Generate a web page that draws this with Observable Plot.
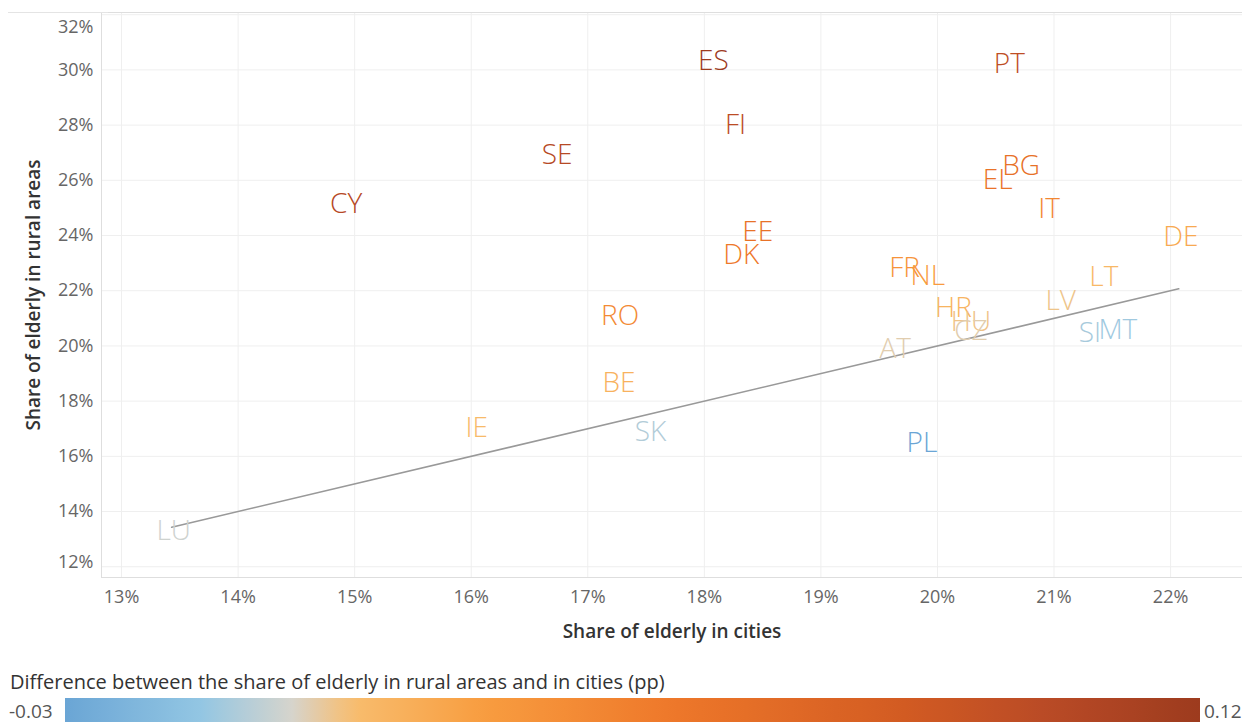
<!DOCTYPE html>
<html>
<head>
<meta charset="utf-8">
<script src="https://cdn.jsdelivr.net/npm/d3@7"></script>
<script src="https://cdn.jsdelivr.net/npm/@observablehq/plot@0.6"></script>
<style>
  html, body { margin: 0; padding: 0; background: #fff; }
  body { font-family: "Open Sans", sans-serif; width: 1242px; height: 722px; overflow: hidden; position: relative; }
  g[aria-label="country"] text { letter-spacing: 4px; }
  #topline { position: absolute; left: 8px; top: 12px; width: 100px; height: 1px; background: #e4e4e4; }
  #legend { position: relative; height: 60px; }
  #legend-title { position: absolute; left: 10px; top: 6px; font-size: 20px; color: #333; white-space: nowrap; }
  #legend-bar { position: absolute; left: 65px; top: 36px; width: 1135px; height: 30px; }
  .lab { position: absolute; top: 36px; font-size: 19px; color: #555; }
</style>
</head>
<body>
<div id="topline"></div>
<div id="chart"></div>
<div id="legend">
  <div id="legend-title"></div>
  <div id="legend-bar"></div>
  <div class="lab" id="lmin" style="left:9px"></div>
  <div class="lab" id="lmax" style="left:1204px"></div>
</div>
<script>
// ---- data (percent) ----
const countries = ["ES","PT","FI","SE","CY","BG","EL","IT","EE","DK","DE","FR","NL","LT","LV","HR","HU","CZ","AT","SI","MT","RO","BE","IE","SK","PL","LU"];
const shareCities = [18.06,20.60,18.25,16.72,14.91,20.70,20.50,20.94,18.44,18.30,22.07,19.70,19.90,21.41,21.04,20.12,20.27,20.27,19.62,21.29,21.53,17.26,17.25,16.03,17.52,19.85,13.43];
const shareRural  = [30.31,30.20,27.99,26.90,25.13,26.50,26.00,24.95,24.11,23.28,23.93,22.81,22.52,22.48,21.61,21.39,20.85,20.53,19.87,20.45,20.56,21.07,18.64,17.01,16.87,16.47,13.28];

const xTicks = [13,14,15,16,17,18,19,20,21,22];
const yTicks = [14,16,18,20,22,24,26,28,30];
const yTickLow = [12];
const yTickHigh = [32];

const xDomain = [12.828, 22.617];
const yDomain = [11.61, 32.08];

const colorDomain = [-0.03, -0.012, 0, 0.008, 0.025, 0.05, 0.08, 0.10, 0.12];
const colorRange  = ["#6aa5d5", "#93c6e3", "#d6d4cc", "#f8bd6e", "#f89d40", "#ee782a", "#d35c22", "#b94a26", "#9d3b1e"];

const xTitle = "Share of elderly in cities";
const yTitle = "Share of elderly in rural areas";
const legendTitle = "Difference between the share of elderly in rural areas and in cities (pp)";
const legendMin = "-0.03";
const legendMax = "0.12";

const data = countries.map((c, i) => ({
  country: c,
  x: shareCities[i],
  y: shareRural[i],
  diff: (shareRural[i] - shareCities[i]) / 100
}));
const [minX, maxX] = d3.extent(data, d => d.x);
const diag = [{x: minX, y: minX}, {x: maxX, y: maxX}];

const pct = d => d + "%";
const tickFont = {fontSize: 18, fill: "#666", tickSize: 0};

const chart = Plot.plot({
  width: 1242,
  height: 662,
  marginTop: 12,
  marginBottom: 85,
  marginLeft: 101,
  marginRight: 0,
  style: {fontFamily: "Open Sans, sans-serif", background: "#fff", overflow: "visible"},
  x: {domain: xDomain},
  y: {domain: yDomain},
  color: {type: "linear", domain: colorDomain, range: colorRange, clamp: true},
  marks: [
    Plot.gridX(xTicks, {stroke: "#efefef", strokeOpacity: 1}),
    Plot.gridY([...yTickLow, ...yTicks, ...yTickHigh], {stroke: "#efefef", strokeOpacity: 1}),
    Plot.frame({stroke: "#dedede"}),
    Plot.axisX(xTicks, {...tickFont, tickPadding: 13, tickFormat: pct, label: null}),
    Plot.axisY(yTicks, {...tickFont, tickPadding: 8, tickFormat: pct, label: null}),
    Plot.axisY(yTickLow, {...tickFont, tickPadding: 8, tickFormat: pct, label: null, dy: -5}),
    Plot.axisY(yTickHigh, {...tickFont, tickPadding: 8, tickFormat: pct, label: null, dy: 13}),
    Plot.line(diag, {x: "x", y: "y", stroke: "#999", strokeWidth: 1.6}),
    Plot.text(data, {x: "x", y: "y", text: "country", fill: "diff", fontSize: 28, fontWeight: 300, dx: 2, fontFamily: "Open Sans, sans-serif", ariaLabel: "country"}),
    Plot.text([xTitle], {frameAnchor: "bottom", dy: 60, fontSize: 19, fontWeight: 600, fill: "#333"}),
    Plot.text([yTitle], {frameAnchor: "left", textAnchor: "middle", dx: -68, rotate: -90, fontSize: 19, fontWeight: 600, fill: "#333"})
  ]
});
document.getElementById("chart").appendChild(chart);

// legend from the same color scale
const cs = chart.scale("color");
const lo = cs.domain[0], hi = cs.domain[cs.domain.length - 1];
const stops = d3.range(0, 101, 2).map(p => {
  const v = lo + (hi - lo) * p / 100;
  return `${cs.apply(v)} ${p}%`;
});
document.getElementById("legend-bar").style.background = `linear-gradient(to right, ${stops.join(", ")})`;
document.getElementById("legend-title").textContent = legendTitle;
document.getElementById("lmin").textContent = legendMin;
document.getElementById("lmax").textContent = legendMax;
</script>
</body>
</html>
